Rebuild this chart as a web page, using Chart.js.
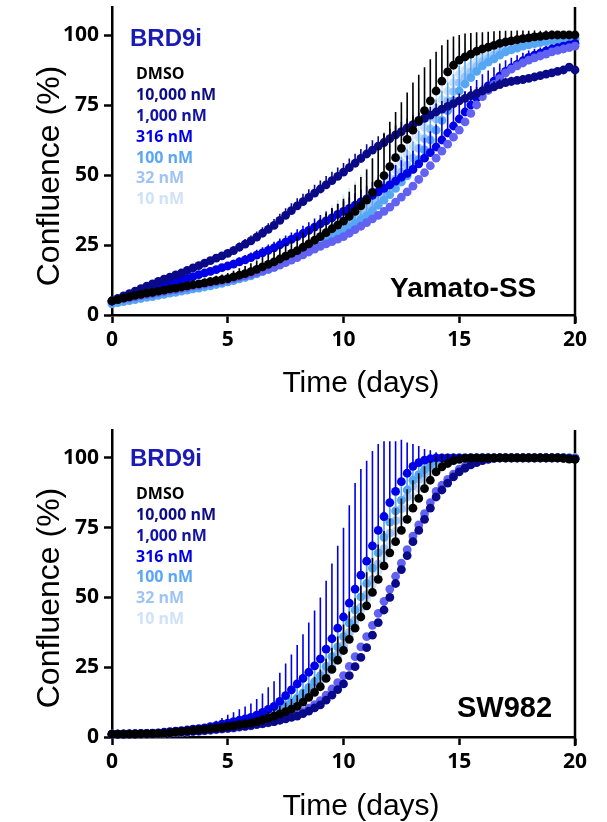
<!DOCTYPE html>
<html><head><meta charset="utf-8">
<script src="https://cdn.jsdelivr.net/npm/chart.js@4.4.1/dist/chart.umd.min.js"></script>
<style>
html,body{margin:0;padding:0;background:#fff;}
#wrap{position:relative;width:607px;height:822px;overflow:hidden;background:#fff;}
canvas{position:absolute;left:0;}
.leg{position:absolute;left:136px;font-family:"Open Sans",sans-serif;font-weight:700;font-size:16px;white-space:nowrap;}
.brd{position:absolute;left:130px;font-family:"Liberation Sans",Arial,sans-serif;font-weight:700;font-size:24px;line-height:24px;color:#1a1ab5;}
.cell{position:absolute;font-family:"Liberation Sans",Arial,sans-serif;font-weight:700;color:#000;white-space:nowrap;}
.xt{position:absolute;font-family:"Liberation Sans",Arial,sans-serif;font-size:30px;line-height:30px;transform:translateX(-50%);white-space:nowrap;color:#000;}
.yt{position:absolute;font-family:"Liberation Sans",Arial,sans-serif;font-size:32px;line-height:32px;transform:translate(-50%,-50%) rotate(-90deg);white-space:nowrap;color:#000;}
</style></head><body>
<div id="wrap">
<canvas id="c1" width="607" height="405" style="top:0px"></canvas>
<canvas id="c2" width="607" height="417" style="top:405px"></canvas>

<div class="brd" style="top:26.4px">BRD9i</div>
<div class="leg" style="top:63.4px;line-height:20.8px">
<div style="color:#000">DMSO</div>
<div style="color:#0c0c86">10,000 nM</div>
<div style="color:#1212a4">1,000 nM</div>
<div style="color:#0000e6">316 nM</div>
<div style="color:#5aa6f5">100 nM</div>
<div style="color:#9ec4f5">32 nM</div>
<div style="color:#d0e2f8">10 nM</div>
</div>
<div class="cell" style="left:390px;top:274.3px;font-size:28px;line-height:28px">Yamato-SS</div>
<div class="xt" style="left:361px;top:366.5px">Time (days)</div>
<div class="yt" style="left:48px;top:176px">Confluence (%)</div>

<div class="brd" style="top:445.7px">BRD9i</div>
<div class="leg" style="top:483.4px;line-height:20.7px">
<div style="color:#000">DMSO</div>
<div style="color:#0c0c86">10,000 nM</div>
<div style="color:#1212a4">1,000 nM</div>
<div style="color:#0000e6">316 nM</div>
<div style="color:#5aa6f5">100 nM</div>
<div style="color:#9ec4f5">32 nM</div>
<div style="color:#d0e2f8">10 nM</div>
</div>
<div class="cell" style="left:457px;top:692.5px;font-size:29px;line-height:29px">SW982</div>
<div class="xt" style="left:361px;top:789.5px">Time (days)</div>
<div class="yt" style="left:48px;top:598px">Confluence (%)</div>
</div>

<script>
// ---------- shared ----------
const days = [0,0.25,0.5,0.75,1,1.25,1.5,1.75,2,2.25,2.5,2.75,3,3.25,3.5,3.75,4,4.25,4.5,4.75,5,5.25,5.5,5.75,6,6.25,6.5,6.75,7,7.25,7.5,7.75,8,8.25,8.5,8.75,9,9.25,9.5,9.75,10,10.25,10.5,10.75,11,11.25,11.5,11.75,12,12.25,12.5,12.75,13,13.25,13.5,13.75,14,14.25,14.5,14.75,15,15.25,15.5,15.75,16,16.25,16.5,16.75,17,17.25,17.5,17.75,18,18.25,18.5,18.75,19,19.25,19.5,19.75,20];
const xTicks = [0,5,10,15,20];
const yTicks = [0,25,50,75,100];
const seriesNames = ["DMSO","10,000 nM","1,000 nM","316 nM","100 nM","32 nM","10 nM"];
const seriesColors = ["#000000","#0a0a88","#6262f2","#0000e6","#56a6f6","#9ec4f5","#cfe2f8"];

// ---------- Yamato-SS ----------
const ss_dmso = [5,5.5,6,6.5,7, 7.4,7.8,8.1,8.5, 8.9,9.3,9.6,10, 10.4,10.8,11.1,11.5, 11.9,12.3,12.6,13, 13.6,14.2,14.8,15.5, 16.3,17.2,18.1,19, 20,21,22,23, 24.2,25.4,26.7,28, 29.4,30.8,32.1,33.5, 35.2,37,39,41, 43.8,46.8,49.8,53, 56.2,59.5,62.7,66, 69.5,73,76.5,80, 83.5,86.8,89.2,91, 92.2,93.2,94.2,95, 95.7,96.3,97,97.5, 97.9,98.3,98.7,99, 99.3,99.5,99.8,100, 100,100,100,100];
const ss_10000 = [5,5.9,6.8,7.6,8.5, 9.4,10.3,11.1,12, 12.8,13.5,14.3,15, 15.9,16.8,17.6,18.5, 19.4,20.3,21.1,22, 23,24.2,25.3,26.5, 27.8,29.2,30.6,32, 33.8,35.6,37.3,39, 40.5,42,43.5,45, 46.5,48,49.5,51, 52.6,54.2,55.9,57.5, 58.9,60.3,61.6,63, 64.3,65.5,66.8,68, 69.1,70.2,71.4,72.5, 73.5,74.5,75.5,76.5, 77.4,78.3,79.1,80, 80.8,81.5,82.3,83, 83.4,83.8,84.1,84.5, 85,85.5,86,86.5, 87,87.5,88.5,87.5];
const ss_1000 = [5,5.4,5.8,6.1,6.5, 6.9,7.3,7.6,8, 8.4,8.8,9.1,9.5, 9.9,10.3,10.6,11, 11.4,11.8,12.1,12.5, 13,13.5,14,14.5, 15.1,15.7,16.4,17, 17.8,18.7,19.6,20.5, 21.5,22.5,23.5,24.5, 25.4,26.2,27.1,28, 29.2,30.5,31.7,33, 34.3,35.6,37,38.5, 40.3,42.1,44,46, 48.4,50.8,53.3,56, 58.5,61,63.5,66, 69,72,75,78, 80.2,82.4,84.4,86.5, 87.8,89,90,91, 91.8,92.5,93.2,94, 94.5,95,95.5,96];
const ss_316 = [5,5.6,6.2,6.9,7.5, 8.1,8.7,9.4,10, 10.6,11.2,11.9,12.5, 13.1,13.7,14.4,15, 15.6,16.2,16.9,17.5, 18.2,19,19.7,20.5, 21.4,22.2,23.1,24, 25,26,27,28, 29.1,30.2,31.4,32.5, 33.6,34.7,35.9,37, 38.1,39.2,40.4,41.5, 42.7,44,45.2,46.5, 47.8,49.2,50.6,52, 54,56,58,60, 62.5,65,67.5,70, 72.5,75,77.5,80, 81.8,83.5,85.3,87, 88.3,89.5,90.8,92, 92.8,93.5,94.3,95, 95.5,96,96.5,97];
const ss_100 = [4,4.4,4.8,5.1,5.5, 5.9,6.3,6.6,7, 7.4,7.8,8.1,8.5, 8.9,9.3,9.6,10, 10.4,10.9,11.3,11.8, 12.3,12.9,13.4,14, 14.7,15.5,16.2,17, 18,19,20,21, 22.1,23.2,24.4,25.5, 26.6,27.7,28.9,30, 31.4,32.7,34.1,35.5, 37.3,39.2,41,43, 45.2,47.5,49.7,52, 55.5,59,62.5,66, 69.5,73,76.5,80, 82.5,84.8,87,89, 90.3,91.5,92.8,94, 94.7,95.3,96,96.5, 96.9,97.3,97.6,98, 98.1,98.3,98.4,98.5];
const ss_32 = [4.5,4.9,5.3,5.6,6, 6.4,6.8,7.1,7.5, 7.9,8.3,8.6,9, 9.4,9.8,10.1,10.5, 10.9,11.4,11.8,12.3, 12.9,13.4,14,14.6, 15.4,16.2,17,17.8, 18.8,19.8,20.8,21.8, 23,24.1,25.3,26.5, 27.7,29,30.2,31.5, 33,34.5,36,37.5, 39.6,41.7,43.9,46, 48.5,51,53.5,56, 59.5,63,66.5,70, 73.3,76.5,79.8,83, 85,86.8,88.7,90.5, 91.6,92.8,93.9,95, 95.5,96,96.5,97, 97.3,97.6,98,98.3, 98.5,98.7,98.8,99];
const ss_10 = [4.8,5.2,5.6,6.1,6.5, 6.9,7.3,7.6,8, 8.4,8.8,9.1,9.5, 9.9,10.3,10.6,11, 11.4,11.9,12.3,12.8, 13.4,14,14.6,15.2, 16,16.8,17.7,18.5, 19.5,20.5,21.5,22.5, 23.7,25,26.2,27.5, 28.9,30.2,31.6,33, 34.6,36.2,37.9,39.5, 41.9,44.2,46.6,49, 51.8,54.5,57.3,60, 63.5,67,70.5,74, 77,80,83,86, 87.5,89,90.5,92, 92.9,93.8,94.6,95.5, 96,96.5,97,97.5, 97.8,98,98.3,98.5, 98.6,98.8,98.9,99];
// upward error (SD)
const ss_dmso_err = [0.5,0.6,0.6,0.7,0.8, 0.8,0.9,0.9,1, 1,1.1,1.1,1.2, 1.3,1.3,1.4,1.5, 1.6,1.7,1.9,2, 2.2,2.5,2.7,3, 3.2,3.5,3.7,4, 4.2,4.5,4.7,5, 5.4,5.7,6.1,6.5, 6.9,7.2,7.6,8, 8.8,9.5,10.3,11, 12.2,13.5,14.8,16, 16.3,16.5,16.8,17, 16.3,15.5,14.8,14, 12.8,11.5,10.3,9, 8.3,7.5,6.8,6, 5.5,5,4.5,4, 3.6,3.3,2.9,2.5, 2.3,2,1.8,1.5, 1.4,1.3,1.1,1];
const ss_10000_err = [0.4,0.5,0.5,0.6,0.6, 0.7,0.7,0.8,0.8, 0.9,0.9,1,1, 1.1,1.1,1.2,1.2, 1.3,1.4,1.4,1.5, 1.6,1.7,1.8,1.9, 2,2.1,2.2,2.3, 2.4,2.5,2.6,2.7, 2.8,2.9,3,3, 3.1,3.2,3.2,3.3, 3.3,3.4,3.4,3.5, 3.5,3.5,3.5,3.5, 3.4,3.4,3.3,3.3, 3.2,3.1,3,3, 2.9,2.8,2.7,2.6, 2.5,2.4,2.3,2.2, 2.1,2,1.9,1.8, 1.7,1.6,1.5,1.5, 1.4,1.4,1.3,1.3, 1.2,1.2,1.1,1.1];
const ss_316_err = [0.4,0.4,0.5,0.5,0.5, 0.6,0.6,0.7,0.7, 0.8,0.8,0.9,0.9, 1,1,1.1,1.1, 1.2,1.3,1.3,1.4, 1.5,1.6,1.7,1.8, 1.9,2,2.1,2.2, 2.3,2.4,2.5,2.6, 2.8,2.9,3.1,3.2, 3.4,3.5,3.7,3.8, 4,4.2,4.4,4.6, 4.8,5,5.3,5.5, 5.8,6.1,6.4,6.7, 7,7.3,7.6,8, 8,8,7.8,7.5, 7.2,6.8,6.4,6, 5.5,5,4.5,4, 3.6,3.3,2.9,2.5, 2.3,2,1.8,1.5, 1.4,1.3,1.1,1];
const ss_100_err = [0.4,0.5,0.5,0.6,0.6, 0.7,0.7,0.8,0.8, 0.9,0.9,1,1, 1.1,1.2,1.2,1.3, 1.4,1.5,1.6,1.7, 1.8,1.9,2,2.1, 2.2,2.3,2.5,2.6, 2.7,2.8,2.9,3, 3.2,3.5,3.7,4, 4.2,4.5,4.7,5, 5.2,5.5,5.7,6, 6.5,7,7.5,8, 8.5,9,9.5,10, 10.2,10.5,10.8,11, 10.5,10,9.5,9, 8.3,7.5,6.8,6, 5.5,5,4.5,4, 3.6,3.3,2.9,2.5, 2.4,2.3,2.1,2, 1.9,1.8,1.6,1.5];
const ss_10_err = [0.5,0.6,0.7,0.7,0.8, 0.9,0.9,1,1, 1.1,1.2,1.2,1.3, 1.4,1.4,1.5,1.6, 1.7,1.9,2,2.2, 2.5,2.7,3,3.2, 3.5,3.8,4.2,4.5, 4.9,5.2,5.6,6, 6.5,7,7.5,8, 8.5,9,9.5,10, 10.8,11.5,12.3,13, 13.8,14.5,15.3,16, 16.5,17,17.5,18, 17.5,17,16.5,16, 14.8,13.5,12.3,11, 10,9,8,7, 6.4,5.8,5.1,4.5, 4.1,3.8,3.4,3, 2.8,2.5,2.3,2, 1.8,1.6,1.4,1.2];

// ---------- SW982 ----------
const sw_dmso = [1,1,1,1,1, 1.1,1.1,1.2,1.3, 1.4,1.6,1.8,2, 2.2,2.4,2.6,2.8, 3,3.3,3.5,3.8, 4.1,4.4,4.7,5, 5.5,6.1,6.8,7.5, 8.3,9.1,10,11, 12.5,14.2,16,18, 21,24.2,27.5,31, 35,39,43,47, 51.8,56.5,61.3,66, 70,74,78,82, 85.5,89,92,95, 96.8,98,99,99.5, 99.8,100,100,100, 100,100,100,100, 100,100,100,100, 100,100,100,100, 100,99.8,99.6,99.5];
const sw_10000 = [1,1,1,1.1,1.1, 1.1,1.2,1.2,1.3, 1.4,1.5,1.7,1.8, 1.9,2.1,2.2,2.4, 2.6,2.8,3,3.2, 3.4,3.7,3.9,4.2, 4.5,4.8,5.2,5.5, 6,6.5,7,7.5, 8.4,9.3,10.4,11.5, 13.2,15,17,19, 22,25.2,28.5,32, 36.5,41,45.5,50, 55,60,65,70, 74,78,82,86, 88.5,91,93.2,95, 96.3,97.5,98.3,99, 99.5,99.8,100,100, 100,100,100,100, 100,100,100,100, 100,100,99.8,99.6];
const sw_1000 = [1,1,1,1,1, 1,1.1,1.1,1.2, 1.3,1.4,1.5,1.6, 1.7,1.9,2,2.2, 2.4,2.6,2.8,3, 3.2,3.5,3.7,4, 4.4,4.7,5.1,5.5, 6.1,6.7,7.3,8, 9.1,10.3,11.6,13, 15,17.2,19.5,22, 25.3,28.8,32.3,36, 40,44.3,48.6,53, 57.6,62.3,67.1,72, 76,80,84,88, 90.2,92.3,94.2,96, 97,97.9,98.8,99.5, 99.8,100,100,100, 100,100,100,100, 100,100,100,100, 100,100,100,99.8];
const sw_316 = [1,1,1.1,1.1,1.2, 1.3,1.3,1.4,1.5, 1.7,1.9,2.1,2.3, 2.5,2.8,3,3.3, 3.7,4.1,4.6,5, 5.5,6,6.5,7, 7.8,8.8,9.9,11, 12.8,14.8,16.9,19, 21,23.2,25.5,28, 31.5,35.2,39,43, 48,53,58,63, 68.5,74,79,84, 88,91.5,94.5,97, 98.3,99.2,99.7,100, 100,100,100,100, 100,100,100,100, 100,100,100,100, 100,100,100,100, 100,100,100,100, 100,100,99.8,99.8];
const sw_100 = [1,1,1,1.1,1.1, 1.2,1.2,1.3,1.4, 1.5,1.7,1.9,2.1, 2.3,2.5,2.8,3, 3.3,3.6,4,4.3, 4.7,5.1,5.6,6, 6.7,7.5,8.2,9, 10.1,11.3,12.6,14, 15.8,17.8,19.8,22, 25.3,28.8,32.3,36, 40.8,45.5,50.2,55, 60.5,66,71.5,77, 81,84.8,88.5,92, 94,95.8,97.5,99, 99.5,99.8,100,100, 100,100,100,100, 100,100,100,100, 100,100,100,100, 100,100,100,100, 100,100,100,100];
const sw_32 = [1,1,1,1.1,1.1, 1.2,1.2,1.3,1.4, 1.5,1.6,1.8,2, 2.2,2.4,2.6,2.9, 3.1,3.4,3.8,4.1, 4.5,4.9,5.3,5.8, 6.4,7.1,7.8,8.5, 9.5,10.6,11.8,13, 14.7,16.5,18.5,20.5, 23.5,26.5,29.7,33, 37.5,42,46.5,51, 56.5,62,67.5,73, 77.5,81.8,86,90, 92.3,94.5,96.6,98.5, 99.2,99.6,99.9,100, 100,100,100,100, 100,100,100,100, 100,100,100,100, 100,100,100,100, 100,100,100,100];
const sw_10 = [1,1,1,1,1.1, 1.1,1.2,1.2,1.3, 1.4,1.6,1.8,2, 2.2,2.4,2.6,2.8, 3,3.3,3.6,3.9, 4.2,4.6,5,5.4, 6,6.6,7.3,8, 8.9,9.8,10.9,12, 13.7,15.5,17.4,19.5, 22.5,25.8,29.1,32.5, 36.7,41,45.2,49.5, 54.5,59.5,64.5,69.5, 73.7,77.8,82,86, 89,91.8,94.5,97, 98,99,99.6,100, 100,100,100,100, 100,100,100,100, 100,100,100,100, 100,100,100,100, 100,100,100,100];
const sw_dmso_err = [0.2,0.2,0.2,0.2,0.2, 0.2,0.3,0.3,0.3, 0.3,0.4,0.4,0.5, 0.5,0.6,0.6,0.7, 0.7,0.8,0.9,1, 1.1,1.2,1.3,1.5, 1.7,1.9,2.2,2.5, 2.8,3.2,3.6,4, 4.5,5,5.6,6.2, 7,7.8,8.5,9.3, 10,10.7,11.3,12, 12.3,12.5,12.5,12.3, 12,11.5,10.8,10, 9,8,6.8,5.5, 4.5,3.5,2.5,1.8, 1.2,0.8,0.6,0.5, 0.4,0.4,0.3,0.3, 0.3,0.3,0.3,0.3, 0.3,0.3,0.3,0.3, 0.3,0.3,0.3,0.3];
const sw_316_err = [0.3,0.3,0.3,0.4,0.4, 0.4,0.5,0.5,0.5, 0.6,0.7,0.7,0.8, 0.9,1,1.1,1.2, 1.4,1.7,2.2,3, 3.4,3.9,4.4,5, 5.8,6.8,7.9,9, 10.2,11.5,12.7,14, 15.8,17.8,19.8,22, 24.5,27,29.5,32, 35,38,38,36, 34,31,27,22, 18,15,11,8, 6,4,3,2, 1.5,1,0.8,0.6, 0.5,0.5,0.5,0.5, 0.5,0.5,0.5,0.5, 0.5,0.5,0.5,0.5, 0.5,0.5,0.5,0.5, 0.5,0.5,0.5,0.5];
const sw_100_err = [0.2,0.2,0.2,0.2,0.2, 0.3,0.3,0.3,0.3, 0.4,0.4,0.5,0.5, 0.6,0.6,0.7,0.8, 0.9,1,1.1,1.2, 1.3,1.5,1.7,1.9, 2.1,2.4,2.7,3, 3.4,3.8,4.2,4.6, 5,5.5,6,6.5, 7,7.5,8,8.5, 9,9.5,9.8,10, 10,9.8,9.5,9, 8.5,7.5,6.5,5.5, 4.5,3.5,2.5,1.8, 1.2,0.8,0.6,0.5, 0.4,0.4,0.4,0.4, 0.4,0.4,0.4,0.4, 0.4,0.4,0.4,0.4, 0.4,0.4,0.4,0.4, 0.4,0.4,0.4,0.4];
const sw_10_err = [0.2,0.2,0.2,0.2,0.3, 0.3,0.3,0.3,0.4, 0.4,0.5,0.5,0.6, 0.6,0.7,0.8,0.9, 1,1.1,1.2,1.4, 1.5,1.7,1.9,2.1, 2.4,2.7,3,3.4, 3.8,4.3,4.8,5.4, 6,6.7,7.4,8.2, 9,9.8,10.6,11.4, 12,12.5,13,13.2, 13.2,13,12.5,12, 11,10,9,8, 6.8,5.5,4.3,3.2, 2.2,1.5,1,0.7, 0.5,0.5,0.5,0.5, 0.5,0.5,0.5,0.5, 0.5,0.5,0.5,0.5, 0.5,0.5,0.5,0.5, 0.5,0.5,0.5,0.5];

// ---------- plugins ----------
const errorBars = {
  id: 'errorBars',
  beforeDatasetDraw(chart, args) {
    const ds = chart.data.datasets[args.index];
    if (!ds.err) return;
    const ys = chart.scales.y;
    const ctx = chart.ctx;
    ctx.save();
    ctx.strokeStyle = ds.backgroundColor;
    ctx.lineWidth = 1.6;
    ctx.beginPath();
    args.meta.data.forEach((pt, i) => {
      const e = ds.err[i];
      if (!e) return;
      const top = ys.getPixelForValue(ds.data[i].y + e);
      ctx.moveTo(pt.x, pt.y);
      ctx.lineTo(pt.x, top);
    });
    ctx.stroke();
    ctx.restore();
  }
};
const rightBorder = {
  id: 'rightBorder',
  beforeDatasetsDraw(chart) {
    const {ctx, chartArea: a} = chart;
    ctx.save();
    ctx.strokeStyle = '#000';
    ctx.lineWidth = 2.5;
    ctx.beginPath();
    ctx.moveTo(a.right, a.top);
    ctx.lineTo(a.right, a.bottom + 9);
    ctx.stroke();
    ctx.restore();
  }
};

function build(canvasId, series, errs, padTop, xHeight) {
  const datasets = series.map((vals, k) => ({
    label: seriesNames[k],
    data: vals.map((v, i) => ({x: days[i], y: v})),
    err: errs[k],
    backgroundColor: seriesColors[k],
    borderColor: seriesColors[k],
    pointRadius: 4.4,
    pointBorderWidth: 0,
    showLine: false,
    clip: false
  }));
  const tickFont = {family: '"Open Sans", sans-serif', weight: '700', size: 21};
  return new Chart(document.getElementById(canvasId), {
    type: 'scatter',
    data: {datasets},
    options: {
      responsive: false,
      animation: false,
      devicePixelRatio: 1,
      layout: {padding: {top: padTop, right: 32, left: 0, bottom: 0}},
      plugins: {legend: {display: false}, tooltip: {enabled: false}},
      scales: {
        x: {
          type: 'linear', min: 0, max: 20,
          afterBuildTicks: s => { s.ticks = xTicks.map(v => ({value: v})); },
          afterFit: s => { s.height = xHeight; s.paddingLeft = 0; s.paddingRight = 0; },
          grid: {drawOnChartArea: false, drawTicks: true, tickLength: 8, tickWidth: 2.5, tickColor: '#000'},
          border: {display: true, color: '#000', width: 2.5},
          ticks: {color: '#000', font: tickFont, padding: 4, maxRotation: 0}
        },
        y: {
          type: 'linear', min: 0, max: 110,
          afterBuildTicks: s => { s.ticks = yTicks.map(v => ({value: v})); },
          afterFit: s => { s.width = 112; s.paddingTop = 0; s.paddingBottom = 0; },
          grid: {drawOnChartArea: false, drawTicks: true, tickLength: 8, tickWidth: 2.5, tickColor: '#000'},
          border: {display: true, color: '#000', width: 2.5},
          ticks: {color: '#000', font: tickFont, padding: 5}
        }
      }
    },
    plugins: [errorBars, rightBorder]
  });
}

build('c1',
  [ss_dmso, ss_10000, ss_1000, ss_316, ss_100, ss_32, ss_10],
  [ss_dmso_err, ss_10000_err, null, ss_316_err, ss_100_err, null, ss_10_err],
  7, 90);
build('c2',
  [sw_dmso, sw_10000, sw_1000, sw_316, sw_100, sw_32, sw_10],
  [sw_dmso_err, null, null, sw_316_err, sw_100_err, null, sw_10_err],
  25, 85);
</script>
</body></html>
